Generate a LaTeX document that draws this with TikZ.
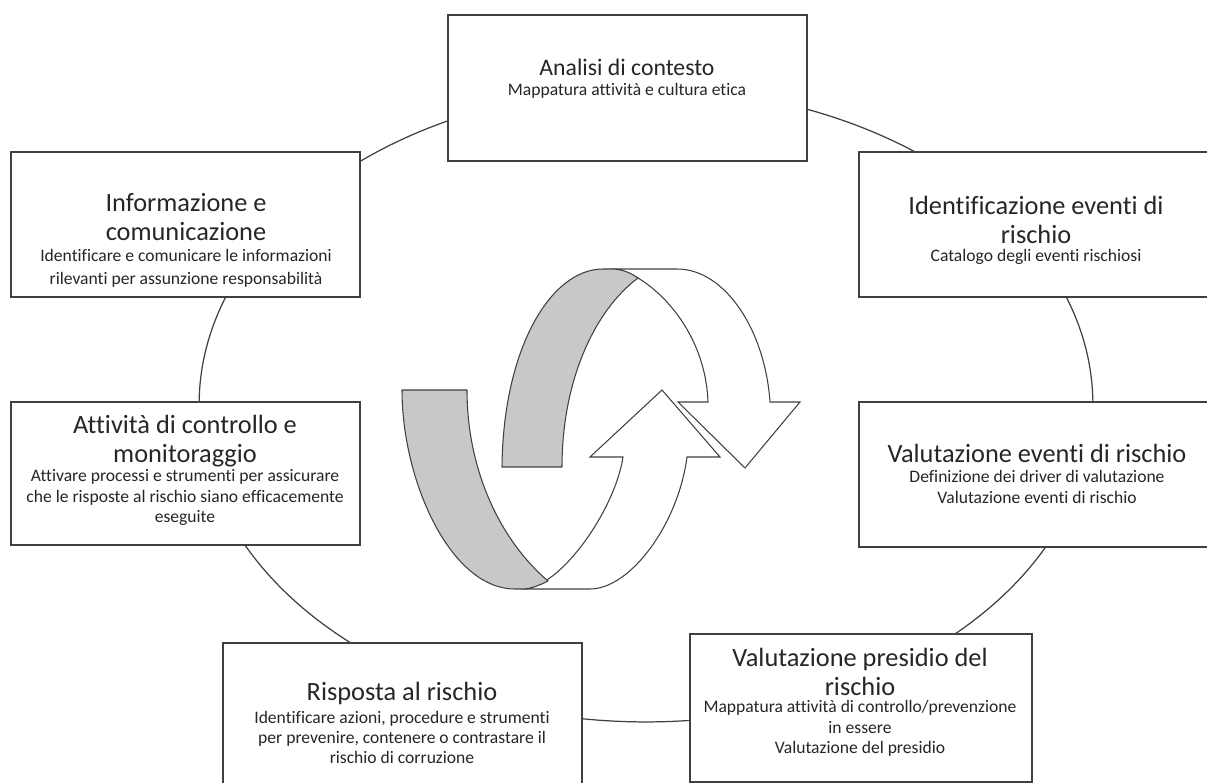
\documentclass[tikz,border=0pt]{standalone}
\usepackage{fontspec}
\setmainfont{Carlito}[Ligatures={NoCommon}]
\definecolor{ringgray}{HTML}{C8C8C8}
\definecolor{edge}{HTML}{404040}
\definecolor{ink}{HTML}{262626}
\begin{document}
\begin{tikzpicture}[x=0.02cm,y=-0.02cm,
  box/.style={draw=edge, line width=0.8pt, fill=white, inner sep=0pt},
  ttl/.style={align=center, font=\fontsize{15}{16.5}\selectfont, text=ink, inner sep=0pt},
  sub/.style={align=center, font=\fontsize{10}{11.5}\selectfont, text=ink, inner sep=0pt},
  ring/.style={draw=edge, line width=0.7pt},
  graypart/.style={draw=edge, line width=0.6pt, fill=ringgray, line join=round},
  whitepart/.style={draw=edge, line width=0.6pt, fill=white, line join=miter}]
\useasboundingbox (0,0) rectangle (1207,783);
\clip (0,0) rectangle (1207,783);
% cycle ring behind the boxes
\coordinate (c) at (646,405);
\draw[ring] (c) ellipse [x radius=8.94cm, y radius=6.34cm];
% boxes
\node[box, minimum width=7.18cm, minimum height=2.92cm] (b1) at (627.5,88) {};
\node[box, minimum width=7.08cm, minimum height=2.90cm] (b2) at (1036,224.5) {};
\node[box, minimum width=7.08cm, minimum height=2.90cm] (b3) at (1036,474.5) {};
\node[box, minimum width=6.84cm, minimum height=2.96cm] (b4) at (861,708) {};
\node[box, minimum width=7.18cm, minimum height=2.92cm] (b5) at (402.5,716) {};
\node[box, minimum width=6.98cm, minimum height=2.86cm] (b6) at (185.5,473.5) {};
\node[box, minimum width=6.98cm, minimum height=2.90cm] (b7) at (185.5,224.5) {};
% texts
\node[ttl, font=\fontsize{13.5}{15}\selectfont] (t1) at (627,67) {Analisi di contesto};
\node[sub] (s1) at (627,91) {Mappatura attività e cultura etica};
\node[ttl] (t2) at (1036,219.5) {Identificazione eventi di\\rischio};
\node[sub] (s2) at (1036,257) {Catalogo degli eventi rischiosi};
\node[ttl] (t3) at (1037,453) {Valutazione eventi di rischio};
\node[sub] (s3) at (1037,487) {Definizione dei driver di valutazione\\Valutazione eventi di rischio};
\node[ttl] (t4) at (860,671.5) {Valutazione presidio del\\rischio};
\node[sub] (s4) at (860,728.5) {Mappatura attività di controllo/prevenzione\\in essere\\Valutazione del presidio};
\node[ttl] (t5) at (402,693) {Risposta al rischio};
\node[sub] (s5) at (402,737.5) {Identificare azioni, procedure e strumenti\\per prevenire, contenere o contrastare il\\rischio di corruzione};
\node[ttl] (t6) at (185,441.5) {Attività di controllo e\\monitoraggio};
\node[sub] (s6) at (185,497.5) {Attivare processi e strumenti per assicurare\\che le risposte al rischio siano efficacemente\\eseguite};
\node[ttl] (t7) at (186,217.5) {Informazione e\\comunicazione};
\node[sub, font=\fontsize{10}{13}\selectfont] (s7) at (186,268.5) {Identificare e comunicare le informazioni\\rilevanti per assunzione responsabilità};
% central circular arrow: upper part
\draw[whitepart] (612,269) -- (677,269) .. controls (725,269) and (765,330) .. (770,402)
  -- (800,402) -- (745,468) -- (678,402) -- (708,402)
  .. controls (705,320) and (640,269) .. (612,269) -- cycle;
\draw[graypart] (502,467) .. controls (503,350) and (550,269) .. (603,269) -- (612,269)
  .. controls (622,269) and (631,273) .. (638,278)
  .. controls (595,310) and (562,380) .. (562,467) -- cycle;
% central circular arrow: lower part
\draw[whitepart] (522,589) -- (590,589) .. controls (630,589) and (678,525) .. (687,457)
  -- (720,457) -- (662,390) -- (590,457) -- (623,457)
  .. controls (615,510) and (560,589) .. (522,589) -- cycle;
\draw[graypart] (402,390) -- (467,390) .. controls (467,470) and (500,540) .. (548,581)
  .. controls (538,586) and (530,589) .. (522,589) -- (515,589)
  .. controls (450,589) and (402,480) .. (402,390) -- cycle;
\end{tikzpicture}
\end{document}
